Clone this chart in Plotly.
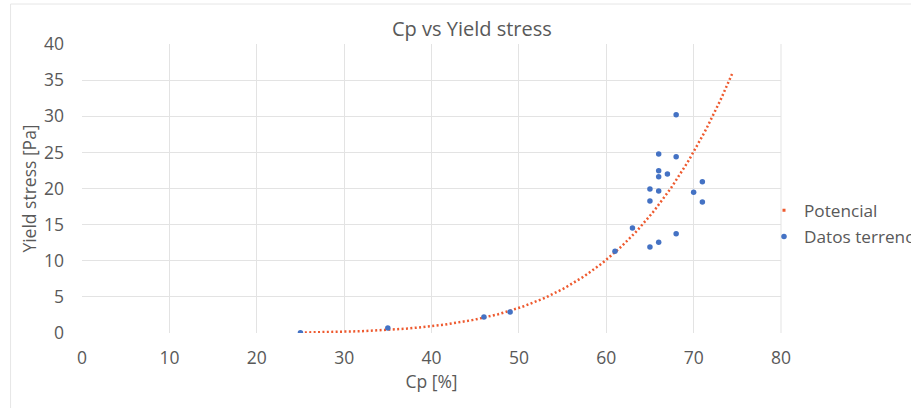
import numpy as np
import plotly.graph_objects as go

# Field data (Cp [%], Yield stress [Pa])
cp = [25, 35, 46, 49, 61, 63, 65, 65, 65, 66, 66, 66, 66, 66, 67, 68, 68, 68, 70, 71, 71]
yield_stress = [0.04, 0.7, 2.2, 2.9, 11.31, 14.53, 11.9, 18.27, 19.93, 12.55, 19.65, 21.63, 22.46, 24.78,
                22.0, 13.74, 24.4, 30.2, 19.47, 20.94, 18.13]

x_ticks = [0, 10, 20, 30, 40, 50, 60, 70, 80]
y_ticks = [0, 5, 10, 15, 20, 25, 30, 35, 40]

# Power trendline (least squares in log-log space, like Excel), forecast forward 3.5
b, lna = np.polyfit(np.log(cp), np.log(yield_stress), 1)
x_fit = np.linspace(min(cp), max(cp) + 3.5, 200)
y_fit = np.exp(lna) * x_fit ** b

FONT = "Open Sans"
GREY = "#595959"
ORANGE = "#EE5A2F"
BLUE = "#4472C4"

fig = go.Figure()
fig.add_trace(go.Scatter(
    x=x_fit, y=y_fit, mode="lines", name="Potencial", showlegend=False,
    line=dict(color=ORANGE, width=2.5, dash="2px,2.4px"),
))
# legend-only entry (Excel shows a small dot for the dotted trendline)
fig.add_trace(go.Scatter(
    x=[None], y=[None], mode="markers", name="Potencial", legendgroup="a",
    marker=dict(color=ORANGE, size=3, symbol="square"),
))
fig.add_trace(go.Scatter(
    x=cp, y=yield_stress, mode="markers", name="Datos terreno", legendgroup="b",
    marker=dict(color=BLUE, size=5.5),
))

fig.update_layout(
    width=911, height=408,
    margin=dict(l=81.5, r=130, t=44, b=75, autoexpand=False),
    paper_bgcolor="white", plot_bgcolor="white",
    title=dict(text="Cp vs Yield stress", x=0.518, xanchor="center", xref="container",
               y=0.929, yanchor="middle", yref="container",
               font=dict(family=FONT, size=20, color=GREY)),
    font=dict(family=FONT, color=GREY),
    showlegend=True,
    legend=dict(x=764 / 911, xanchor="left", xref="container",
                y=1 - 223.5 / 408, yanchor="middle", yref="container",
                font=dict(family=FONT, size=17.2, color=GREY),
                traceorder="grouped", tracegroupgap=1,
                itemwidth=30, bgcolor="rgba(0,0,0,0)"),
    xaxis=dict(range=[0, 80], tickvals=x_ticks, showgrid=True, gridcolor="#E3E3E3", gridwidth=1,
               zeroline=False, showline=False, ticks="", automargin=False,
               ticklabelstandoff=12,
               tickfont=dict(family=FONT, size=17.5, color=GREY),
               title=dict(text="Cp [%]", font=dict(family=FONT, size=17.5, color=GREY), standoff=8)),
    yaxis=dict(range=[0, 40], tickvals=y_ticks, showgrid=True, gridcolor="#E3E3E3", gridwidth=1,
               zeroline=False, showline=False, ticks="", automargin=False,
               ticklabelstandoff=17,
               tickfont=dict(family=FONT, size=17.5, color=GREY),
               title=dict(text="Yield stress [Pa]", font=dict(family=FONT, size=17.5, color=GREY), standoff=2)),
    shapes=[dict(type="rect", xref="paper", yref="paper", x0=-0.1022, x1=1.3, y0=-0.3, y1=1.1384,
                 line=dict(color="#E6E6E6", width=1), layer="below")],
)
fig.add_shape(type="line", xref="paper", yref="paper", x0=1, x1=1, y0=0, y1=1,
              line=dict(color="#E3E3E3", width=1), layer="below")

fig.write_html("out.html", config={"displayModeBar": False},
               post_script="document.body.style.margin='0px';")
